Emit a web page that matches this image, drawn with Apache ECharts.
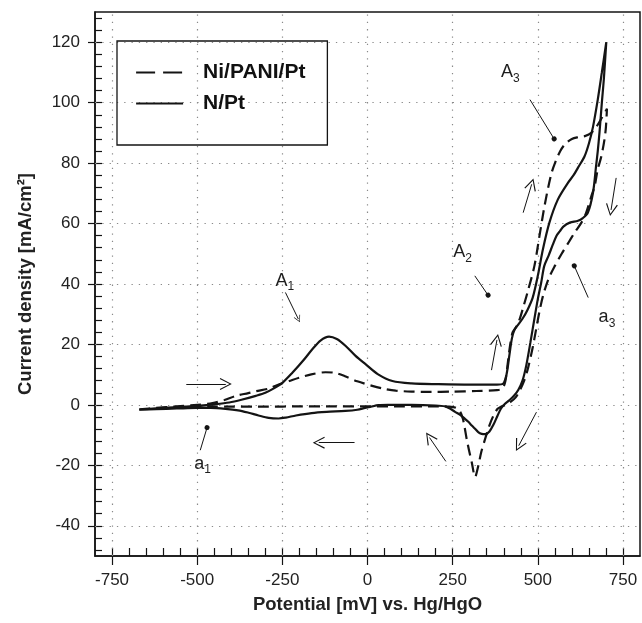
<!DOCTYPE html>
<html><head><meta charset="utf-8">
<script src="https://cdn.jsdelivr.net/npm/echarts@6/dist/echarts.min.js"></script>
<style>html,body{margin:0;padding:0;background:#fff}#c{width:642px;height:623px}</style>
</head><body><div id="c"></div>
<script>
// ---------- tick labels / ticks ----------
const xMajorTicks = [-750, -500, -250, 0, 250, 500, 750];
const yMajorTicks = [-40, -20, 0, 20, 40, 60, 80, 100, 120];
const xMinorTicks = [-750,-700,-650,-600,-550,-500,-450,-400,-350,-300,-250,-200,-150,-100,-50,0,50,100,150,200,250,300,350,400,450,500,550,600,650,700,750];
const yMinorTicks = [-48,-44,-40,-36,-32,-28,-24,-20,-16,-12,-8,-4,0,4,8,12,16,20,24,28,32,36,40,44,48,52,56,60,64,68,72,76,80,84,88,92,96,100,104,108,112,116,120,124,128];

// ---------- series: [potential mV, current density mA/cm2] (forward scan then reverse) ----------
const niPaniPt = [
  [-670,-1.5],[-620,-1.0],[-560,-0.5],[-500,0.0],[-455,0.6],[-420,1.6],[-386,3.0],[-350,3.9],[-328,4.5],[-290,5.4],
  [-259,6.8],[-230,7.9],[-201,9.0],[-165,10.1],[-123,10.8],[-95,10.6],[-64,9.4],[-30,7.8],[14,6.3],[50,5.3],
  [83,4.7],[130,4.4],[180,4.3],[250,4.4],[320,4.6],[380,4.9],[396,5.4],[405,8],[412,14],[419,20],
  [426,24],[435,25.5],[447,28.5],[459,33],[470,37.3],[490,46],[505,56],[520,66],[539,76.2],[552,80.5],
  [566,84],[580,86.3],[600,88],[620,88.6],[640,89],[657,90],[672,92],[688,95],[703,98],
  [700,92],[696,88],[686,82],[676,78],[667,72.4],[657,69],[642,63.6],[628,60.3],[608,57],[589,53.5],
  [570,50],[550,46],[531,41.6],[515,36],[505,31],[495,25],[485,19],[472,12.5],[460,8],[448,5],
  [435,2.5],[420,1],[405,0],[392,-0.6],[382,-1.3],[370,-3.5],[358,-6.8],[346,-11],[334,-15.6],[325,-20.3],
  [316,-23.8],[306,-19],[298,-15],[291,-11.2],[285,-7.3],[280,-4.6],[272,-2.2],[260,-1.0],[240,-0.6],[200,-0.5],
  [100,-0.5],[0,-0.5],[-100,-0.5],[-200,-0.5],[-300,-0.6],[-400,-0.6],[-460,-0.5],[-520,-0.7],[-600,-1.1],[-670,-1.5]
];
const nPt = [
  [-670,-1.6],[-600,-1.0],[-540,-0.6],[-499,-0.3],[-450,0.2],[-406,0.8],[-370,1.7],[-328,3.0],[-300,4.0],[-279,5.2],
  [-250,7.3],[-220,10.7],[-190,14.5],[-162,18.4],[-138,21.3],[-113,22.6],[-90,21.8],[-64,19.5],[-35,16.2],[-5,13.4],
  [30,10.2],[73,7.9],[129,7.1],[208,6.85],[300,6.7],[380,6.7],[398,7],[408,10],[416,16],[424,22],
  [432,25],[442,26.5],[455,28.5],[470,31.5],[485,35.5],[500,42.7],[515,51.5],[534,60.3],[559,68],[588,73.4],
  [605,76],[618,78.5],[637,82.2],[650,86.5],[662,92],[676,101],[688,110],[701,120],
  [694,108],[688,100],[681,90],[676,84],[671,79],[662,70.2],[647,63.6],[632,61.8],[618,60.9],[594,60.3],
  [575,59],[565,57.5],[555,56],[544,53],[532,49.5],[519,46],[510,40.5],[500,35],[490,28.5],[478,20.5],
  [466,13],[455,8],[443,5],[430,3],[416,1.5],[403,0.3],[392,-1.2],[382,-3.5],[370,-6.5],[358,-8.8],
  [346,-9.7],[335,-9.6],[325,-9],[315,-7.8],[306,-6.8],[296,-5.6],[286,-4.6],[272,-3.3],[257,-2.3],[242,-1.2],
  [228,-0.5],[200,-0.2],[129,0],[60,0],[32,-0.1],[10,-0.6],[-7,-1.0],[-30,-1.6],[-65,-2.0],[-120,-2.3],
  [-164,-2.7],[-210,-3.5],[-240,-4.2],[-261,-4.5],[-290,-4.3],[-320,-3.5],[-349,-2.6],[-380,-1.8],[-417,-1.3],[-460,-1.0],
  [-500,-1.0],[-560,-1.2],[-620,-1.4],[-670,-1.6]
];

// ---------- annotations (data coordinates) ----------
// scan-direction arrows: [x1, y1, x2(head), y2(head)]
const scanArrows = [
  [-532, 6.9, -416, 6.9],
  [-38, -12.5, -143, -12.5],
  [230, -18.7, 182, -10.8],
  [364, 11.5, 380, 21.5],
  [457, 63.6, 482, 73],
  [730, 75.1, 715, 64.5],
  [496, -2.4, 444, -13.5]
];
// leader lines: [x1, y1, x2(end marker), y2(end marker), marker]
const leaderLines = [
  [-241, 37.2, -203, 28.4, 'arrow'],
  [315, 42.7, 354, 36.3, 'dot'],
  [477, 101, 548, 88, 'dot'],
  [648, 35.5, 607, 46, 'dot'],
  [-491, -15, -471, -7.5, 'dot']
];
// peak labels: [letter, subscript, x, y]
const peakLabels = [
  ['A', '1', -243, 41],
  ['A', '2', 279, 50.5],
  ['A', '3', 419, 110],
  ['a', '1', -484, -19.5],
  ['a', '3', 703, 29]
];

const FONT = '"Liberation Sans", Arial, Helvetica, sans-serif';
const INK = '#141414';
const chevron = 'path://M0,12 L5,0 L10,12 L9.1,12.5 L5,2.3 L0.9,12.5 Z';

const annotationLines = [];
scanArrows.forEach(a => {
  annotationLines.push([
    {coord: [a[0], a[1]], symbol: 'none'},
    {coord: [a[2], a[3]], symbol: chevron, symbolSize: 12}
  ]);
});
leaderLines.forEach(l => {
  annotationLines.push([
    {coord: [l[0], l[1]], symbol: 'none'},
    l[4] === 'dot'
      ? {coord: [l[2], l[3]], symbol: 'circle', symbolSize: 5}
      : {coord: [l[2], l[3]], symbol: chevron, symbolSize: 7}
  ]);
});

const gridLines = xMajorTicks.map(v => ({xAxis: v})).concat(yMajorTicks.map(v => ({yAxis: v})));

const chart = echarts.init(document.getElementById('c'), null, {renderer: 'canvas'});
const option = {
  animation: false,
  backgroundColor: '#fff',
  textStyle: {fontFamily: FONT},
  grid: {left: 95, right: 2, top: 12, bottom: 67, show: true, borderColor: INK, borderWidth: 1.5, backgroundColor: 'transparent'},
  legend: {
    data: [
      {name: 'Ni/PANI/Pt', lineStyle: {type: [19, 8], width: 2.2, color: INK}},
      {name: 'N/Pt', lineStyle: {type: 'solid', width: 2.2, color: INK}}
    ],
    orient: 'vertical', left: 117, top: 41,
    itemWidth: 47, itemHeight: 14, itemGap: 10,
    padding: [21, 22, 31, 18],
    borderColor: INK, borderWidth: 1.3, borderRadius: 0,
    itemStyle: {color: 'transparent', borderColor: 'transparent', borderWidth: 0, opacity: 0},
    textStyle: {fontSize: 21, fontWeight: 'bold', color: '#111', fontFamily: FONT, padding: [0, 0, 0, 15], lineHeight: 21},
    selectedMode: false
  },
  xAxis: [
    {
      type: 'value', min: -800, max: 800, position: 'bottom', gridIndex: 0,
      axisLine: {show: true, onZero: false, lineStyle: {color: INK, width: 1.5}},
      axisTick: {show: true, inside: false, length: 9, customValues: xMajorTicks, lineStyle: {color: INK, width: 1.2}},
      axisLabel: {show: true, customValues: xMajorTicks, margin: 16, fontSize: 17, color: '#222', fontFamily: FONT},
      splitLine: {show: false},
      name: 'Potential [mV] vs. Hg/HgO', nameLocation: 'middle', nameGap: 39,
      nameTextStyle: {fontSize: 18.5, fontWeight: 'bold', color: '#222', fontFamily: FONT}
    },
    {
      type: 'value', min: -800, max: 800, position: 'bottom', gridIndex: 0,
      axisLine: {show: false, onZero: false},
      axisTick: {show: true, inside: true, length: 8, customValues: xMinorTicks, lineStyle: {color: INK, width: 1.2}},
      axisLabel: {show: false},
      splitLine: {show: false}
    }
  ],
  yAxis: [
    {
      type: 'value', min: -50, max: 130, position: 'left', gridIndex: 0,
      axisLine: {show: true, onZero: false, lineStyle: {color: INK, width: 1.5}},
      axisTick: {show: true, inside: false, length: 7, customValues: yMajorTicks, lineStyle: {color: INK, width: 1.2}},
      axisLabel: {show: true, customValues: yMajorTicks, margin: 15, fontSize: 17, color: '#222', fontFamily: FONT},
      splitLine: {show: false},
      name: 'Current density [mA/cm²]', nameLocation: 'middle', nameGap: 60,
      nameTextStyle: {fontSize: 18.5, fontWeight: 'bold', color: '#222', fontFamily: FONT}
    },
    {
      type: 'value', min: -50, max: 130, position: 'left', gridIndex: 0,
      axisLine: {show: false, onZero: false},
      axisTick: {show: true, inside: true, length: 7, customValues: yMinorTicks, lineStyle: {color: INK, width: 1.2}},
      axisLabel: {show: false},
      splitLine: {show: false}
    }
  ],
  series: [
    {
      name: 'Ni/PANI/Pt', type: 'line', xAxisIndex: 0, yAxisIndex: 0,
      data: niPaniPt, symbol: 'none', showSymbol: false, smooth: 0.3,
      lineStyle: {color: INK, width: 2.2, type: [11, 6]},
      itemStyle: {color: INK},
      z: 3,
      markLine: {
        silent: true, z: 1, symbol: 'none', animation: false,
        label: {show: false},
        lineStyle: {color: '#8a8a8a', width: 1.2, type: [1.3, 6]},
        emphasis: {disabled: true},
        data: gridLines
      }
    },
    {
      name: 'N/Pt', type: 'line', xAxisIndex: 0, yAxisIndex: 0,
      data: nPt, symbol: 'none', showSymbol: false, smooth: 0.3,
      lineStyle: {color: INK, width: 2.2, type: 'solid'},
      itemStyle: {color: INK},
      z: 4,
      markLine: {
        silent: true, z: 5, animation: false,
        label: {show: false},
        lineStyle: {color: INK, width: 1, type: 'solid'},
        emphasis: {disabled: true},
        data: annotationLines
      },
      markPoint: {
        silent: true, animation: false,
        symbol: 'circle', symbolSize: 0,
        itemStyle: {color: 'transparent'},
        data: peakLabels.map(p => ({
          coord: [p[2], p[3]],
          label: {
            show: true, position: 'inside',
            formatter: '{m|' + p[0] + '}{s|' + p[1] + '}',
            rich: {
              m: {fontSize: 18, color: '#1e1e1e', fontFamily: FONT, lineHeight: 24, verticalAlign: 'middle'},
              s: {fontSize: 12, color: '#1e1e1e', fontFamily: FONT, lineHeight: 12, verticalAlign: 'bottom'}
            }
          }
        }))
      }
    }
  ]
};
chart.setOption(option);
</script>
</body></html>
